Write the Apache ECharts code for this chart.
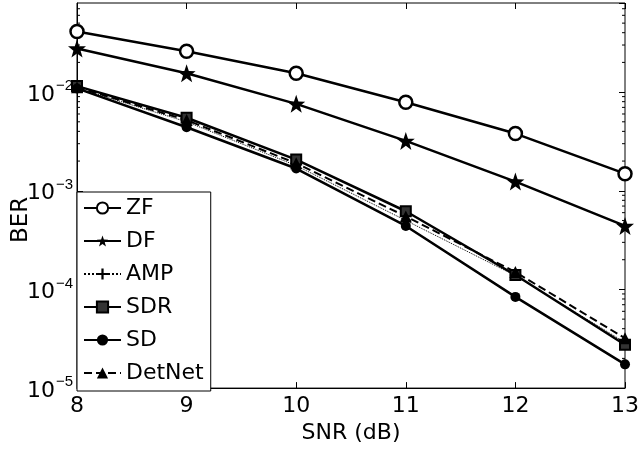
<!DOCTYPE html>
<html>
<head>
<meta charset="utf-8">
<script src="https://cdn.jsdelivr.net/npm/echarts@6/dist/echarts.min.js"></script>
<style>html,body{margin:0;padding:0;background:#fff}#c{width:642px;height:449px}</style>
</head>
<body>
<div id="c"></div>
<script>
const snr = [8, 9, 10, 11, 12, 13];
const berZF = [0.0411, 0.0259, 0.0155, 0.0079, 0.0038, 0.00149];
const berDF = [0.0277, 0.0155, 0.0076, 0.0032, 0.00124, 0.00044];
const berAMP = [0.0110, 0.0050, 0.00180, 0.00050, 0.000138, 0.000029];
const berSDR = [0.0115, 0.0055, 0.00207, 0.00062, 0.000140, 0.0000275];
const berSD = [0.0109, 0.0044, 0.00168, 0.00044, 0.000084, 0.0000174];
const berDetNet = [0.0112, 0.0052, 0.00190, 0.00055, 0.000150, 0.000032];
const yMin = 1e-5, yMax = 0.08;
const minorTicks = [];
for (let e = -5; e <= -2; e++) for (let m = 2; m <= 9; m++) { const v = m * Math.pow(10, e); if (v < yMax) minorTicks.push(v); }

const FONT = 'DejaVu Sans, sans-serif';
const SUPFONT = 'Liberation Sans, Arial, sans-serif';
const pairs = ys => snr.map((x, i) => [x, ys[i]]);
const starPath = 'path://M0,-10 L2.35,-3.24 9.51,-3.09 3.8,1.24 5.88,8.09 0,4 -5.88,8.09 -3.8,1.24 -9.51,-3.09 -2.35,-3.24 Z';
const plusPath = 'path://M-1,-5 H1 V-1 H5 V1 H1 V5 H-1 V1 H-5 V-1 H-1 Z';

function mk(name, data, symbol, size, fill, lineType, lineWidth, borderWidth) {
  return {
    name, type: 'line', data: pairs(data), symbol, symbolSize: size,
    lineStyle: { color: '#000', width: lineWidth, type: lineType },
    itemStyle: { color: fill, borderColor: '#000', borderWidth: borderWidth },
    emphasis: { disabled: true }, animation: false, z: 3
  };
}

const chart = echarts.init(document.getElementById('c'));
chart.setOption({
  animation: false,
  grid: { left: 77, right: 16, top: 3, bottom: 58, show: true, borderColor: '#000', borderWidth: 1, containLabel: false },
  xAxis: [{
    type: 'value', min: 8, max: 13, interval: 1,
    name: 'SNR (dB)', nameLocation: 'middle', nameGap: 32,
    nameTextStyle: { fontFamily: FONT, fontSize: 22, color: '#000' },
    axisLine: { show: true, lineStyle: { color: '#000' } },
    axisTick: { inside: true, length: 6, lineStyle: { color: '#000' } },
    axisLabel: { fontFamily: FONT, fontSize: 22, color: '#000', margin: 7 },
    splitLine: { show: false }
  }, {
    type: 'value', min: 8, max: 13, interval: 1, position: 'top',
    axisLine: { show: false }, axisLabel: { show: false },
    axisTick: { inside: true, length: 6, lineStyle: { color: '#000' } },
    splitLine: { show: false }
  }],
  yAxis: [{
    type: 'log', logBase: 10, min: yMin, max: yMax,
    axisLine: { show: true, lineStyle: { color: '#000' } },
    axisTick: { inside: true, length: 6, lineStyle: { color: '#000' } },
    splitLine: { show: false },
    axisLabel: {
      margin: 4, showMaxLabel: false,
      formatter: v => {
        const e = Math.log10(v); const r = Math.round(e);
        if (Math.abs(e - r) > 1e-6) return '';
        return '{b|10}{s|\u2212' + (-r) + '}';
      },
      rich: {
        b: { fontFamily: FONT, fontSize: 22, color: '#000', padding: [6, 0, 0, 0] },
        s: { fontFamily: SUPFONT, fontSize: 15, color: '#000', padding: [0, 0, 12, 1] }
      }
    }
  }, {
    type: 'log', logBase: 10, min: yMin, max: yMax, position: 'right',
    axisLine: { show: false }, axisLabel: { show: false },
    axisTick: { inside: true, length: 6, lineStyle: { color: '#000' } },
    splitLine: { show: false }
  }],
  legend: {
    orient: 'vertical', left: 77, top: 192,
    data: ['ZF', 'DF', 'AMP', 'SDR', 'SD', 'DetNet'],
    backgroundColor: '#fff', borderColor: '#000', borderWidth: 1,
    padding: [5, 7, 7, 6], itemGap: 11, itemWidth: 37, itemHeight: 14,
    textStyle: { fontFamily: FONT, fontSize: 22, color: '#000' },
    selectedMode: false
  },
  graphic: [{
    type: 'text', x: 10, y: 243, rotation: Math.PI / 2,
    style: { text: 'BER', fontFamily: FONT, fontSize: 23, fill: '#000' }
  }],
  series: [
    mk('ZF', berZF, 'circle', 13, '#fff', 'solid', 2.5, 2.5),
    mk('DF', berDF, starPath, 18, '#000', 'solid', 2.5, 0),
    mk('AMP', berAMP, plusPath, 10, '#000', 'dotted', 1, 0),
    mk('SDR', berSDR, 'rect', 10, '#333', 'solid', 2.5, 2),
    mk('SD', berSD, 'circle', 10, '#000', 'solid', 2.5, 0),
    mk('DetNet', berDetNet, 'triangle', 12, '#000', 'dashed', 2, 0),
    {
      type: 'custom', silent: true, clip: false, z: 2,
      data: minorTicks.map(v => [8, v]),
      renderItem: (params, api) => {
        const v = api.value(1);
        const pL = api.coord([8, v]);
        const pR = api.coord([13, v]);
        return { type: 'group', children: [
          { type: 'line', shape: { x1: pL[0], y1: pL[1], x2: pL[0] + 3, y2: pL[1] }, style: { stroke: '#000', lineWidth: 1 } },
          { type: 'line', shape: { x1: pR[0], y1: pR[1], x2: pR[0] - 3, y2: pR[1] }, style: { stroke: '#000', lineWidth: 1 } }
        ]};
      }
    }
  ]
});
</script>
</body>
</html>
